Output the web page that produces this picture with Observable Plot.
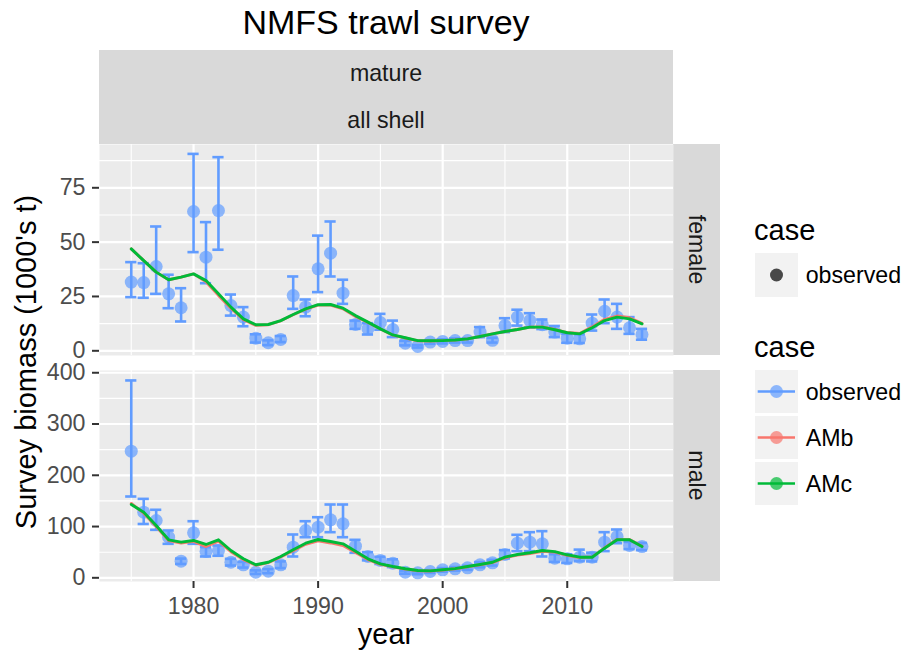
<!DOCTYPE html>
<html>
<head>
<meta charset="utf-8">
<script src="https://cdn.jsdelivr.net/npm/d3@7"></script>
<script src="https://cdn.jsdelivr.net/npm/@observablehq/plot@0.6"></script>
<style>
  body { margin: 0; background: #fff; }
  #chart { position: relative; width: 909px; height: 656px; overflow: hidden;
           font-family: "Liberation Sans", Arial, Helvetica, sans-serif; background: #fff; }
  .abs { position: absolute; }
  .title { left: 99px; width: 574px; top: 2px; height: 40px; line-height: 40px; text-align: center;
           font-size: 34px; color: #000; white-space: nowrap; }
  .stripTop { left: 99px; width: 574px; top: 50px; height: 94px; background: #D9D9D9; }
  .stripTop div { height: 47px; line-height: 47px; text-align: center; font-size: 23.2px; color: #1A1A1A; }
  .stripRight { left: 673px; width: 47px; height: 211px; background: #D9D9D9;
                display: flex; align-items: center; justify-content: center; }
  .stripRight span { display: inline-block; transform: rotate(90deg); font-size: 23.2px; color: #1A1A1A; white-space: nowrap; }
  .ytitle { left: 26px; top: 362px; transform: translate(-50%, -50%) rotate(-90deg); font-size: 29px; color: #000; white-space: nowrap; }
  .xtitle { left: 99px; width: 574px; top: 616px; height: 36px; line-height: 36px; text-align: center; font-size: 29px; color: #000; }
</style>
</head>
<body>
<div id="chart">
  <div class="abs title">NMFS trawl survey</div>
  <div class="abs stripTop"><div>mature</div><div>all shell</div></div>
  <div class="abs stripRight" style="top:144px"><span>female</span></div>
  <div class="abs stripRight" style="top:370px"><span>male</span></div>
  <div class="abs ytitle">Survey biomass (1000's t)</div>
  <div class="abs xtitle">year</div>
</div>
<script>
// ---------------- data ----------------
const years = [1975,1976,1977,1978,1979,1980,1981,1982,1983,1984,1985,1986,1987,1988,1989,1990,1991,1992,1993,1994,1995,
               1996,1997,1998,1999,2000,2001,2002,2003,2004,2005,2006,2007,2008,2009,2010,2011,2012,2013,2014,2015,2016];

// female observed + error bar limits
const femaleObs = [31.6,31.4,38.8,26.2,19.8,64.1,43.1,64.5,20.8,15.5,5.8,3.7,5.2,25.4,20.1,37.7,44.9,26.5,12.1,10.1,13.0,
                   9.8,3.5,2.0,4.0,4.3,4.7,4.7,8.6,4.8,11.6,15.5,13.9,12.0,8.6,5.8,5.5,12.7,18.2,15.5,10.6,7.5];
const femaleLo  = [24.7,24.4,26.2,19.6,13.5,45.4,31.1,46.5,16.2,11.3,3.8,2.6,4.0,19.3,15.9,27.0,34.2,21.6,10.1,7.5,9.7,
                   6.3,2.5,1.5,3.2,3.4,3.8,3.8,6.3,3.8,8.6,11.6,10.8,10.0,6.3,3.7,3.6,9.3,12.7,10.1,7.8,5.1];
const femaleHi  = [40.8,40.3,57.2,35.0,28.8,90.6,59.2,89.1,25.9,20.1,7.6,4.8,6.8,34.2,23.6,53.0,59.5,32.7,13.9,12.7,17.0,
                   13.9,4.6,2.6,4.9,5.3,5.7,5.7,10.9,6.0,15.0,18.9,17.3,14.4,11.4,7.8,7.6,16.7,23.6,21.6,15.5,10.1];
const femaleAMb = [46.9,41.5,36.2,32.7,33.9,35.4,31.8,25.5,19.6,14.3,11.7,12.0,13.8,16.6,19.2,21.0,21.0,19.3,15.8,13.0,10.0,
                   7.2,5.9,4.6,4.5,4.7,5.0,5.5,6.6,7.8,8.9,9.8,10.9,11.0,9.8,8.4,8.0,11.0,14.5,16.0,15.2,12.6];
const femaleAMc = [46.9,41.5,36.2,32.7,33.9,35.4,32.3,26.2,20.1,14.7,12.0,12.1,13.9,16.7,19.3,21.2,21.3,19.6,16.2,13.2,10.1,
                   7.3,6.0,4.7,4.6,4.7,5.0,5.5,6.6,7.8,8.9,9.8,10.9,10.9,9.7,8.3,7.8,10.6,13.9,15.5,14.7,12.4];

// male observed + error bar limits
const maleObs = [247,128,111.8,79.2,32.4,87.8,51.3,53.3,30.4,25.4,10.9,12.9,25.4,59.7,92.3,98.7,113.2,105.4,61.7,41.6,33.8,
                 28.5,10.9,9.7,12.3,15.6,17.6,19.5,25.4,29.3,45.5,67.5,69.5,66.3,38.2,37.1,40.2,40.2,69.5,80.6,63,61];
const maleLo  = [158.6,105,93.6,66.3,27,66.3,41.6,43,24,20,7.5,9,19,41.6,79.2,79.2,89,79.2,48.8,34,27,
                 21,8,7,9.5,12,14,15.5,20.5,24,38,51.9,52,41.6,31,29,32.4,32,52,67.5,56,54];
const maleHi  = [385,154,132.7,92.3,37.5,110.4,59.7,63,37,31,14.5,17,32,84.5,110.4,118.2,143,143,74.1,50,41,
                 36,14,12.5,15,19,21,23.5,30.5,35,54,83.9,89,91,46,46,55,49,89,94.2,70,68];
const maleAMb = [145,126,100,72.5,68,71,61,71.5,51,35.5,24.5,29.5,40.5,53,65.5,72,68,63,49.5,35.5,26.3,
                 21.3,17,13.8,13.2,15.2,17.6,21.5,25.5,29.8,39.2,44.2,47.2,51.8,50,44,39.5,40.5,58.5,74.8,74.5,61.5];
const maleAMc = [143,128,102,74.1,69.5,72.8,65,74.1,53.3,37.1,25.4,30.4,41.6,54.6,67.5,74.7,70.8,66.3,51.9,37.1,27.3,
                 22,17.6,14.2,13.5,15.6,18,22,26,30.4,40.2,45.5,48.8,53.3,51,44.9,40.2,40.2,57.8,74.1,74.1,61];

const xMajor = [1980, 1990, 2000, 2010];
const xMinor = [1975, 1985, 1995, 2005, 2015];
const femaleTicks = [0, 25, 50, 75];
const femaleMinor = [12.5, 37.5, 62.5, 87.5];
const maleTicks = [0, 100, 200, 300, 400];
const maleMinor = [50, 150, 250, 350];

const caseNames = ["observed", "AMb", "AMc"];
const caseColors = ["#619CFF", "#F8766D", "#00BA38"];

// ---------------- build tables ----------------
const femaleRows = years.map((y, i) => ({year: y, obs: femaleObs[i], lo: femaleLo[i], hi: femaleHi[i], AMb: femaleAMb[i], AMc: femaleAMc[i]}));
const maleRows = years.map((y, i) => ({year: y, obs: maleObs[i], lo: maleLo[i], hi: maleHi[i], AMb: maleAMb[i], AMc: maleAMc[i]}));

const font = '"Liberation Sans", Arial, Helvetica, sans-serif';
const capHalf = 0.45;

function panel(rows, yDomain, yTicks, yMinor, withX) {
  const marks = [
    Plot.frame({fill: "#EBEBEB", stroke: "none"}),
    Plot.gridX(xMinor, {stroke: "#fff", strokeOpacity: 1, strokeWidth: 1.1}),
    Plot.gridY(yMinor, {stroke: "#fff", strokeOpacity: 1, strokeWidth: 1.1}),
    Plot.gridX(xMajor, {stroke: "#fff", strokeOpacity: 1, strokeWidth: 2.2}),
    Plot.gridY(yTicks, {stroke: "#fff", strokeOpacity: 1, strokeWidth: 2.2}),
    Plot.axisY(yTicks, {label: null, tickSize: 7, tickPadding: 7, stroke: "#333333", strokeWidth: 2,
                        fill: "#4D4D4D", fontSize: 23.2, tickFormat: d => String(d)}),
    Plot.ruleX(rows, {x: "year", y1: "lo", y2: "hi", stroke: caseColors[0], strokeWidth: 2.6}),
    Plot.ruleY(rows, {y: "lo", x1: d => d.year - capHalf, x2: d => d.year + capHalf, stroke: caseColors[0], strokeWidth: 2.6}),
    Plot.ruleY(rows, {y: "hi", x1: d => d.year - capHalf, x2: d => d.year + capHalf, stroke: caseColors[0], strokeWidth: 2.6}),
    Plot.dot(rows, {x: "year", y: "obs", r: 6.5, fill: caseColors[0], fillOpacity: 0.7, stroke: "none"}),
    Plot.line(rows, {x: "year", y: "AMb", stroke: caseColors[1], strokeWidth: 2.9}),
    Plot.line(rows, {x: "year", y: "AMc", stroke: caseColors[2], strokeWidth: 2.9})
  ];
  if (withX) {
    marks.push(Plot.axisX(xMajor, {label: null, tickSize: 7, tickPadding: 8.7, stroke: "#333333", strokeWidth: 2,
                                   fill: "#4D4D4D", fontSize: 23.2, tickFormat: d => String(d)}));
  }
  return Plot.plot({
    width: 673,
    height: withX ? 251 : 211,
    marginLeft: 99, marginRight: 0, marginTop: 0, marginBottom: withX ? 40 : 0,
    x: {domain: [1972.45, 2018.53], axis: withX ? undefined : null},
    y: {domain: yDomain},
    style: {fontFamily: font, fontSize: "23.2px", background: "transparent", overflow: "visible", color: "#4D4D4D"},
    marks
  });
}

const chart = document.getElementById("chart");
const pf = panel(femaleRows, [-2.16, 94.92], femaleTicks, femaleMinor, false);
pf.style.position = "absolute"; pf.style.left = "0px"; pf.style.top = "144px";
chart.appendChild(pf);
const pm = panel(maleRows, [-7.2, 404.4], maleTicks, maleMinor, true);
pm.style.position = "absolute"; pm.style.left = "0px"; pm.style.top = "370px";
chart.appendChild(pm);

// ---------------- legend ----------------
const leg = d3.create("svg").attr("width", 169).attr("height", 320)
  .style("position", "absolute").style("left", "740px").style("top", "200px")
  .style("font-family", font);
leg.append("text").attr("x", 14).attr("y", 40).attr("font-size", 29).attr("fill", "#000").text("case");
leg.append("rect").attr("x", 15).attr("y", 53).attr("width", 43).attr("height", 44).attr("fill", "#F2F2F2");
leg.append("circle").attr("cx", 36.5).attr("cy", 75).attr("r", 6.5).attr("fill", "#000").attr("fill-opacity", 0.7);
leg.append("text").attr("x", 65.7).attr("y", 75).attr("dy", "0.35em").attr("font-size", 23.2).attr("fill", "#000").text("observed");
leg.append("text").attr("x", 14).attr("y", 156.7).attr("font-size", 29).attr("fill", "#000").text("case");
caseNames.forEach((name, i) => {
  const top = 170 + i * 46;
  const cy = top + 21.5;
  leg.append("rect").attr("x", 15).attr("y", top).attr("width", 43).attr("height", 43).attr("fill", "#F2F2F2");
  leg.append("line").attr("x1", 17.7).attr("x2", 55).attr("y1", cy).attr("y2", cy)
     .attr("stroke", caseColors[i]).attr("stroke-width", 2.7);
  leg.append("circle").attr("cx", 36.5).attr("cy", cy).attr("r", 6.5).attr("fill", caseColors[i]).attr("fill-opacity", 0.7);
  leg.append("text").attr("x", 65.7).attr("y", cy).attr("dy", "0.35em").attr("font-size", 23.2).attr("fill", "#000").text(name);
});
chart.appendChild(leg.node());
</script>
</body>
</html>
